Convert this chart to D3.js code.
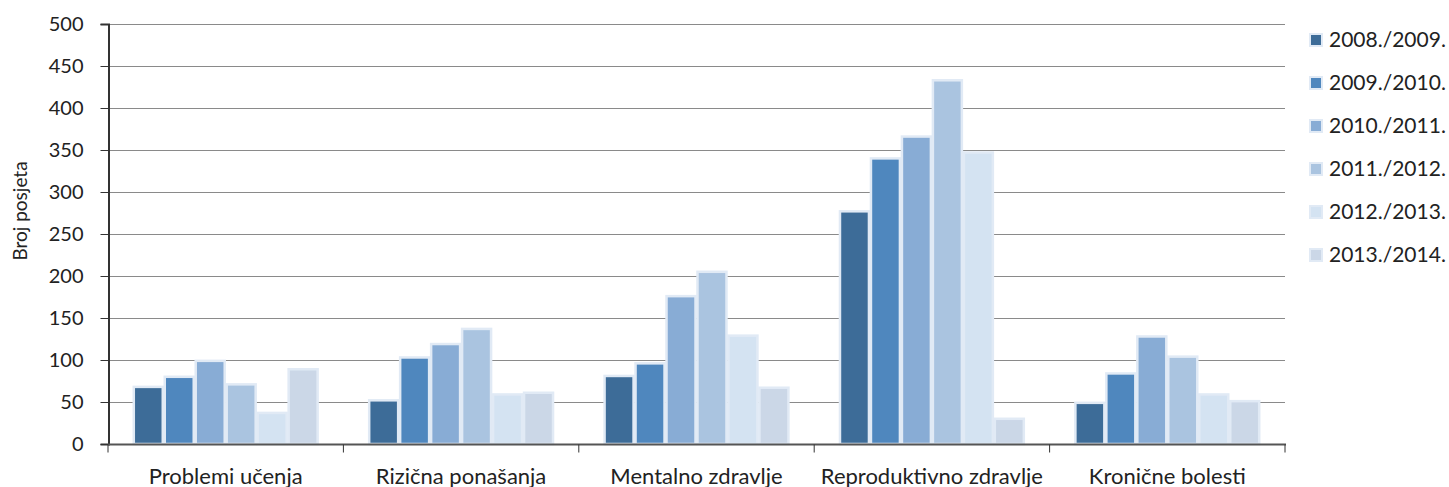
<!DOCTYPE html>
<html>
<head>
<meta charset="utf-8">
<title>Broj posjeta</title>
<script src="https://d3js.org/d3.v7.min.js"></script>
<style>
body { margin: 0; background: #fff; }
text { font-family: Lato, "Open Sans", sans-serif; fill: #222; }
</style>
</head>
<body>
<div id="chart"></div>
<script>
var categories = ["Problemi učenja", "Rizična ponašanja", "Mentalno zdravlje", "Reproduktivno zdravlje", "Kronične bolesti"];
var seriesNames = ["2008./2009.", "2009./2010.", "2010./2011.", "2011./2012.", "2012./2013.", "2013./2014."];
var s2008 = [68, 52, 81, 277, 49];
var s2009 = [80, 103, 96, 340, 84];
var s2010 = [99, 119, 176, 366, 128];
var s2011 = [71, 137, 205, 433, 104];
var s2012 = [37, 59, 129, 347, 59];
var s2013 = [89, 61, 67, 30, 51];
var yTicks = [0, 50, 100, 150, 200, 250, 300, 350, 400, 450, 500];
var colors = ["#3d6c98", "#4f87be", "#88acd5", "#aac4e0", "#d4e3f2", "#cbd7e7"];

var allSeries = [s2008, s2009, s2010, s2011, s2012, s2013];

var W = 1449, H = 487;
var svg = d3.select("#chart").append("svg").attr("width", W).attr("height", H);

var x0 = d3.scaleBand().domain(categories).range([108, 1285]);
var x1 = d3.scaleBand().domain(d3.range(seriesNames.length)).range([0, x0.bandwidth()]).paddingOuter(0.8);
var y = d3.scaleLinear().domain([0, 500]).range([444, 24]);

// gridlines
svg.append("g").selectAll("line")
  .data(yTicks.slice(1))
  .enter().append("line")
  .attr("x1", 108).attr("x2", 1285)
  .attr("y1", function(d) { return y(d) + 0.5; })
  .attr("y2", function(d) { return y(d) + 0.5; })
  .attr("stroke", "#8a8a8a").attr("stroke-width", 1);

// bars
var groups = svg.append("g").selectAll("g")
  .data(categories)
  .enter().append("g")
  .attr("transform", function(d) { return "translate(" + x0(d) + ",0)"; });

groups.selectAll("rect")
  .data(function(d, ci) { return allSeries.map(function(s, si) { return { si: si, v: s[ci] }; }); })
  .enter().append("rect")
  .attr("x", function(d) { return x1(d.si) + 1; })
  .attr("y", function(d) { return y(d.v); })
  .attr("width", x1.bandwidth() - 2)
  .attr("height", function(d) { return y(0) - y(d.v); })
  .attr("fill", function(d) { return colors[d.si]; })
  .attr("stroke", "#e1eaf5")
  .attr("stroke-width", 2.5);

// y axis
var yAxis = svg.append("g")
  .attr("transform", "translate(108.5,0)")
  .call(d3.axisLeft(y).tickValues(yTicks).tickSize(8).tickPadding(17));
yAxis.select(".domain").attr("stroke", "#333").attr("stroke-width", 2);
yAxis.selectAll(".tick line").attr("stroke", "#333");
yAxis.selectAll("text").style("font-size", "20px").style("font-family", "Lato, sans-serif").attr("fill", "#222");

// x axis
var xAxis = svg.append("g").attr("transform", "translate(0," + 444.5 + ")");
xAxis.append("line").attr("x1", 108).attr("x2", 1286).attr("stroke", "#555").attr("stroke-width", 2);
xAxis.selectAll(".xt")
  .data(categories.concat([null]))
  .enter().append("line")
  .attr("x1", function(d, i) { return i < categories.length ? x0(d) : x0.range()[1]; })
  .attr("x2", function(d, i) { return i < categories.length ? x0(d) : x0.range()[1]; })
  .attr("y1", 0).attr("y2", 8)
  .attr("stroke", "#333");
xAxis.selectAll(".xl")
  .data(categories)
  .enter().append("text")
  .attr("x", function(d) { return x0(d) + x0.bandwidth() / 2; })
  .attr("y", 39)
  .attr("text-anchor", "middle")
  .style("font-size", "22px")
  .text(function(d) { return d; });

// y title
svg.append("text")
  .attr("transform", "translate(27,211) rotate(-90)")
  .attr("text-anchor", "middle")
  .style("font-size", "19px")
  .text("Broj posjeta");

// legend
var legend = svg.append("g").selectAll("g")
  .data(seriesNames)
  .enter().append("g")
  .attr("transform", function(d, i) { return "translate(1310," + (40 + i * 43) + ")"; });
legend.append("rect")
  .attr("x", 0).attr("y", -6).attr("width", 12).attr("height", 12)
  .attr("fill", function(d, i) { return colors[i]; })
  .attr("stroke", "#e1eaf5").attr("stroke-width", 2);
legend.append("text")
  .attr("x", 19).attr("y", 7)
  .style("font-size", "21px")
  .text(function(d) { return d; });
</script>
</body>
</html>
